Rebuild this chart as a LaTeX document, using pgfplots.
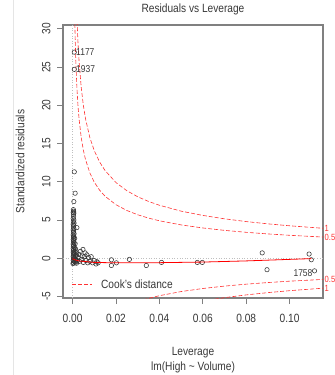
\documentclass[border=0pt]{standalone}
\usepackage{fontspec}
\setmainfont{Liberation Sans}[FakeStretch=0.85]
\usepackage{pgfplots}
\pgfplotsset{compat=1.18}
\definecolor{boxgray}{gray}{0.5}
\definecolor{txt}{gray}{0.22}
\definecolor{cookred}{rgb}{1,0.2,0.2}
\begin{document}
\begin{tikzpicture}
\draw[black!10, line width=0.8bp] (13bp,0) -- (13bp,375bp);
\begin{axis}[
  at={(63bp,77bp)}, anchor=south west,
  scale only axis, width=260bp, height=273bp,
  xmin=-0.0044, xmax=0.1154, ymin=-5.2, ymax=30.5,
  clip mode=individual,
  axis line style={boxgray, line width=1.1bp},
  xtick={0,0.02,0.04,0.06,0.08,0.1},
  xticklabels={0.00,0.02,0.04,0.06,0.08,0.10},
  ytick={-5,0,5,10,15,20,25,30},
  yticklabels={-5,0,5,10,15,20,25,30},
  tick pos=left, tick align=outside,
  major tick length=6bp,
  tick style={boxgray, line width=0.9bp},
  ticklabel style={font=\fontsize{12}{14}\selectfont, text=txt},
  yticklabel style={rotate=90, anchor=south},
  xticklabel shift=7bp,
  yticklabel shift=3bp,
  title={Residuals vs Leverage},
  title style={font=\fontsize{12}{14}\selectfont, text=txt, at={(axis description cs:0.5,1.037)}, anchor=center},
  xlabel={Leverage},
  xlabel style={font=\fontsize{12}{14}\selectfont, text=txt, at={(axis description cs:0.5,-0.2015)}, anchor=center},
  ylabel={Standardized residuals},
  ylabel style={font=\fontsize{12}{14}\selectfont, text=txt, at={(axis description cs:-0.165,0.5)}, anchor=center, rotate=0},
]
% Cook's distance 0.5 (upper)
\addplot[cookred, line width=0.6bp, dash pattern=on 4bp off 2bp] coordinates {
(0.0008,35.34) (0.001,31.61) (0.0012,28.85) (0.0015,25.80) (0.002,22.34) (0.0025,19.97)
(0.003,18.23) (0.004,15.78) (0.005,14.11) (0.006,12.87) (0.008,11.14) (0.01,9.95)
(0.0125,8.89) (0.015,8.10) (0.02,7.00) (0.025,6.245) (0.03,5.686) (0.035,5.251)
(0.04,4.899) (0.05,4.359) (0.06,3.958) (0.07,3.645) (0.08,3.391) (0.09,3.180)
(0.1,3.0) (0.1154,2.769)};
% Cook's distance 1 (upper)
\addplot[cookred, line width=0.6bp, dash pattern=on 4bp off 2bp] coordinates {
(0.0015,36.49) (0.002,31.59) (0.0025,28.25) (0.003,25.78) (0.004,22.32) (0.005,19.95)
(0.006,18.20) (0.008,15.75) (0.01,14.07) (0.0125,12.57) (0.015,11.46) (0.02,9.90)
(0.025,8.83) (0.03,8.04) (0.035,7.43) (0.04,6.93) (0.05,6.16) (0.06,5.60)
(0.07,5.155) (0.08,4.796) (0.09,4.497) (0.1,4.243) (0.1154,3.916)};
% Cook's distance 0.5 (lower)
\addplot[cookred, line width=0.6bp, dash pattern=on 4bp off 2bp] coordinates {
(0.03,-5.686) (0.035,-5.251) (0.04,-4.899) (0.05,-4.359) (0.06,-3.958) (0.07,-3.645)
(0.08,-3.391) (0.09,-3.180) (0.1,-3.0) (0.1154,-2.769)};
% Cook's distance 1 (lower)
\addplot[cookred, line width=0.6bp, dash pattern=on 4bp off 2bp] coordinates {
(0.06,-5.60) (0.07,-5.155) (0.08,-4.796) (0.09,-4.497) (0.1,-4.243) (0.1154,-3.916)};
% reference lines
\addplot[black!25, dotted, line width=0.6bp] coordinates {(0,-5.2) (0,30.5)};
\addplot[black!25, dotted, line width=0.6bp] coordinates {(-0.0044,0) (0.1154,0)};
% points
\addplot[only marks, mark=o, mark size=2.2bp, black!80, mark options={line width=0.55bp}] coordinates {
(0.0008,26.95) (0.0008,24.7) (0.0008,11.3) (0.0012,8.5) (0.0006,7.4)
(0.0004,6.35) (0.0005,6.15) (0.0003,6.0) (0.0006,5.9) (0.0004,5.75) (0.0005,5.5)
(0.0003,5.2) (0.0006,5.0) (0.0004,4.8) (0.0007,4.6) (0.0003,4.45) (0.0005,4.3)
(0.0020,4.0) (0.0004,4.1) (0.0006,3.9) (0.0003,3.7) (0.0005,3.55) (0.0004,3.4)
(0.0007,3.2) (0.0003,3.05) (0.0005,2.9) (0.0004,2.75) (0.0006,2.6) (0.0003,2.45)
(0.0005,2.3) (0.0004,2.15) (0.0007,2.0) (0.0003,1.85) (0.0005,1.7) (0.0004,1.55)
(0.0009,1.4) (0.0003,1.3) (0.0006,1.15) (0.0004,1.0) (0.0011,0.9) (0.0003,0.8)
(0.0005,0.65) (0.0008,0.55) (0.0004,0.4) (0.0013,0.3) (0.0003,0.2) (0.0006,0.1)
(0.0009,0.0) (0.0004,-0.1) (0.0015,-0.2) (0.0003,-0.3) (0.0007,-0.4) (0.0011,-0.5)
(0.0004,-0.6) (0.0018,-0.65) (0.0002,-0.7)
(0.0012,1.9) (0.0014,1.2) (0.0016,0.7) (0.0010,2.6) (0.0013,-0.1) (0.0019,0.4)
(0.0022,-0.3) (0.0025,0.1) (0.0017,-0.5)
(0.0030,0.5) (0.0032,-0.4) (0.0036,0.9) (0.0040,-0.2) (0.0044,0.3) (0.0048,1.15)
(0.0050,-0.55) (0.0054,0.2) (0.0058,0.7) (0.0062,-0.3) (0.0066,0.45) (0.0070,-0.6)
(0.0074,0.1) (0.0080,-0.4) (0.0086,0.2) (0.0092,-0.6) (0.0100,-0.3) (0.0108,-0.75)
(0.0112,-0.45) (0.0118,-0.6)
(0.0179,-0.2) (0.0179,-0.95) (0.0202,-0.6) (0.0262,-0.15) (0.0340,-0.95)
(0.0410,-0.55) (0.0575,-0.55) (0.0598,-0.55) (0.0874,0.7) (0.0896,-1.5)
(0.1090,0.55) (0.1100,-0.2) (0.1115,-1.65)};
% smoother
\addplot[red, line width=0.8bp] coordinates {
(0.0,-0.05) (0.001,-0.2) (0.003,-0.35) (0.01,-0.55) (0.02,-0.6) (0.04,-0.58)
(0.06,-0.5) (0.08,-0.35) (0.095,-0.2) (0.110,-0.05)};
% legend
\draw[cookred, line width=0.7bp, dash pattern=on 4bp off 2bp] (axis description cs:0.0346,0.0495) -- (axis description cs:0.1115,0.0495);
\node[font=\fontsize{12}{14}\selectfont, text=txt, anchor=west, inner sep=0pt] at (axis description cs:0.146,0.0495) {Cook's distance};
% point ids
\node[font=\fontsize{10}{11}\selectfont, text=txt, anchor=west, inner sep=0pt] at (axis cs:0.0016,26.95) {1177};
\node[font=\fontsize{10}{11}\selectfont, text=txt, anchor=west, inner sep=0pt] at (axis cs:0.0016,24.7) {1937};
\node[font=\fontsize{10}{11}\selectfont, text=txt, anchor=east, inner sep=0pt] at (axis cs:0.1106,-2.0) {1758};
% cook level labels
\node[font=\fontsize{9}{10}\selectfont, text=cookred, anchor=west, inner sep=0pt] at (axis cs:0.1154,3.916) {\hspace{1.5bp}1};
\node[font=\fontsize{9}{10}\selectfont, text=cookred, anchor=west, inner sep=0pt] at (axis cs:0.1154,2.769) {\hspace{1.5bp}0.5};
\node[font=\fontsize{9}{10}\selectfont, text=cookred, anchor=west, inner sep=0pt] at (axis cs:0.1154,-2.769) {\hspace{1.5bp}0.5};
\node[font=\fontsize{9}{10}\selectfont, text=cookred, anchor=west, inner sep=0pt] at (axis cs:0.1154,-3.916) {\hspace{1.5bp}1};
\node[font=\fontsize{12}{14}\selectfont, text=txt] at (axis description cs:0.5,-0.256) {lm(High \textasciitilde{} Volume)};
\end{axis}
\pgfresetboundingbox
\useasboundingbox (0,0) rectangle (335bp,375bp);
\end{tikzpicture}
\end{document}
